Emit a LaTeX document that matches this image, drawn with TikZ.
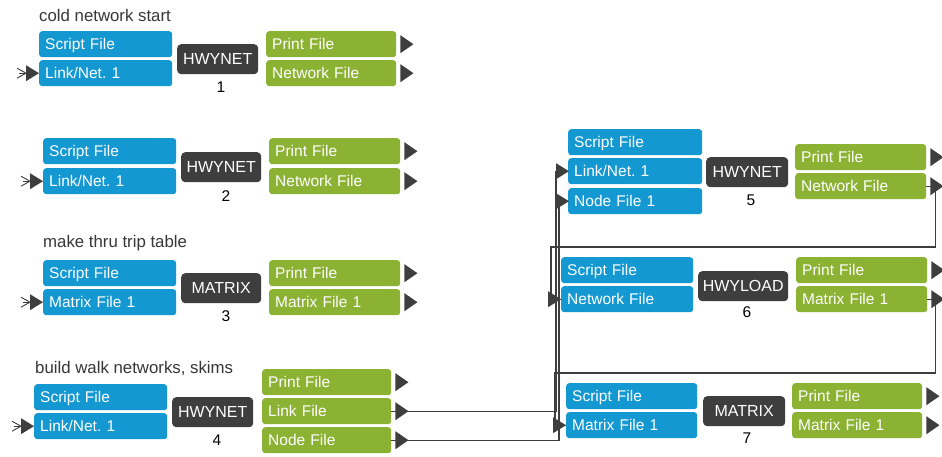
\documentclass[tikz,border=0pt]{standalone}
\usepackage{fontspec}
\setmainfont{Liberation Sans}
\frenchspacing
\definecolor{cblue}{RGB}{20,152,210}
\definecolor{cgreen}{RGB}{140,178,52}
\definecolor{cdark}{RGB}{62,62,62}
\definecolor{ctext}{RGB}{55,55,55}
\begin{document}
\begin{tikzpicture}[x=1pt,y=-1pt,
  bx/.style={rounded corners=3pt, anchor=north west, minimum height=26pt,
    inner xsep=6pt, inner ysep=0pt, text width=119pt, align=left, text=white,
    font=\fontsize{15.5}{18}\selectfont, text height=13pt, text depth=2.5pt},
  inb/.style={bx, fill=cblue},
  outb/.style={bx, fill=cgreen},
  prog/.style={rounded corners=4pt, fill=cdark, text=white, anchor=north west,
    minimum height=30pt, inner sep=0pt, font=\fontsize{16}{18}\selectfont,
    text height=13pt, text depth=2.5pt, align=center},
  num/.style={font=\fontsize{15.5}{18}\selectfont, text=black, inner sep=0pt},
  note/.style={anchor=west, font=\fontsize{16.8}{19}\selectfont, text=ctext, inner sep=0pt},
  wire/.style={draw=cdark, line width=1.3pt},
  tri/.pic={\fill[cdark] (0,-9) -- (13,0) -- (0,9) -- cycle;},
  intri/.pic={\fill[cdark] (0,-8) -- (13,0) -- (0,8) -- cycle;},
  tail/.pic={\fill[cdark] (0,-8) -- (13,0) -- (0,8) -- cycle;
    \draw[cdark, line width=0.9pt] (-9,-5) -- (0,0) -- (-9,5);
    \draw[cdark, line width=0.9pt] (-7,0) -- (0,0);}
]
\useasboundingbox[fill=white] (0,0) rectangle (942,457);

% ---------- group 1
\node[note] (n1) at (39,15) {cold network start};
\node[inb, text width=121pt] (s1) at (39,31) {Script File};
\node[inb, text width=121pt] (i1) at (39,60) {Link/Net. 1};
\node[prog, minimum width=81pt] (p1) at (177,44) {HWYNET};
\node[num] (m1) at (221,87) {1};
\node[outb, text width=118pt] (a1) at (266,31) {Print File};
\node[outb, text width=118pt] (b1) at (266,60) {Network File};

% ---------- group 2
\node[inb, text width=121pt] (s2) at (43,138) {Script File};
\node[inb, text width=121pt] (i2) at (43,168) {Link/Net. 1};
\node[prog, minimum width=80pt] (p2) at (181,152) {HWYNET};
\node[num] (m2) at (226,196) {2};
\node[outb, text width=119pt] (a2) at (269,138) {Print File};
\node[outb, text width=119pt] (b2) at (269,168) {Network File};

% ---------- group 3
\node[note] (n3) at (43,243) {make thru trip table};
\node[inb, text width=121pt] (s3) at (43,260) {Script File};
\node[inb, text width=121pt] (i3) at (43,289) {Matrix File 1};
\node[prog, minimum width=80pt] (p3) at (181,273) {MATRIX};
\node[num] (m3) at (226,316) {3};
\node[outb, text width=119pt] (a3) at (269,260) {Print File};
\node[outb, text width=119pt] (b3) at (269,289) {Matrix File 1};

% ---------- group 4
\node[note] (n4) at (35,368) {build walk networks, skims};
\node[inb, text width=121pt] (s4) at (34,384) {Script File};
\node[inb, text width=121pt] (i4) at (34,413) {Link/Net. 1};
\node[prog, minimum width=81pt] (p4) at (172,397) {HWYNET};
\node[num] (m4) at (217,440) {4};
\node[outb, text width=117pt] (a4) at (262,369) {Print File};
\node[outb, text width=117pt] (b4) at (262,398) {Link File};
\node[outb, text width=117pt] (c4) at (262,427) {Node File};

% ---------- group 5
\node[inb, text width=122pt] (s5) at (568,129) {Script File};
\node[inb, text width=122pt] (i5) at (568,158) {Link/Net. 1};
\node[inb, text width=122pt] (j5) at (568,188) {Node File 1};
\node[prog, minimum width=82pt] (p5) at (706,157) {HWYNET};
\node[num] (m5) at (751,200) {5};
\node[outb, text width=119pt] (a5) at (795,144) {Print File};
\node[outb, text width=119pt] (b5) at (795,173) {Network File};

% ---------- group 6
\node[inb, text width=120pt] (s6) at (561,257) {Script File};
\node[inb, text width=120pt] (i6) at (561,286) {Network File};
\node[prog, minimum width=90pt] (p6) at (698,271) {HWYLOAD};
\node[num] (m6) at (747,312) {6};
\node[outb, text width=119pt] (a6) at (796,257) {Print File};
\node[outb, text width=119pt] (b6) at (796,286) {Matrix File 1};

% ---------- group 7
\node[inb, text width=119pt] (s7) at (566,383) {Script File};
\node[inb, text width=119pt] (i7) at (566,412) {Matrix File 1};
\node[prog, minimum width=82pt] (p7) at (703,396) {MATRIX};
\node[num] (m7) at (747,438) {7};
\node[outb, text width=118pt] (a7) at (792,383) {Print File};
\node[outb, text width=118pt] (b7) at (792,412) {Matrix File 1};

% ---------- connectors
\coordinate (k56) at (551,247);
\coordinate (k67) at (555,373);
\draw[wire] (b4.east) -| ([xshift=-12pt]i5.west) -- (i5.west);
\draw[wire] (c4.east) -| ([xshift=-9pt]j5.west) -- (j5.west);
\draw[wire] (b5.east) -- ++(9,0) |- (k56) -- (k56 |- i6.west) -- (i6.west);
\draw[wire] (b6.east) -- ++(8,0) |- (k67) -- (k67 |- i7.west) -- (i7.west);

% ---------- output triangles
\foreach \n in {a1,b1,a2,b2,a3,b3,a4,b4,c4,a5,b5,a6,b6,a7,b7}
  \pic at ([xshift=4pt]\n.east) {tri};

% ---------- input triangles
\foreach \n in {i1,i2,i3,i4}
  \pic at ([xshift=-13pt]\n.west) {tail};
\pic at ([xshift=-12pt]i5.west) {intri};
\pic at ([xshift=-12pt]j5.west) {intri};
\pic at ([xshift=-13pt]i6.west) {intri};
\pic at ([xshift=-13pt]i7.west) {intri};
\end{tikzpicture}
\end{document}
